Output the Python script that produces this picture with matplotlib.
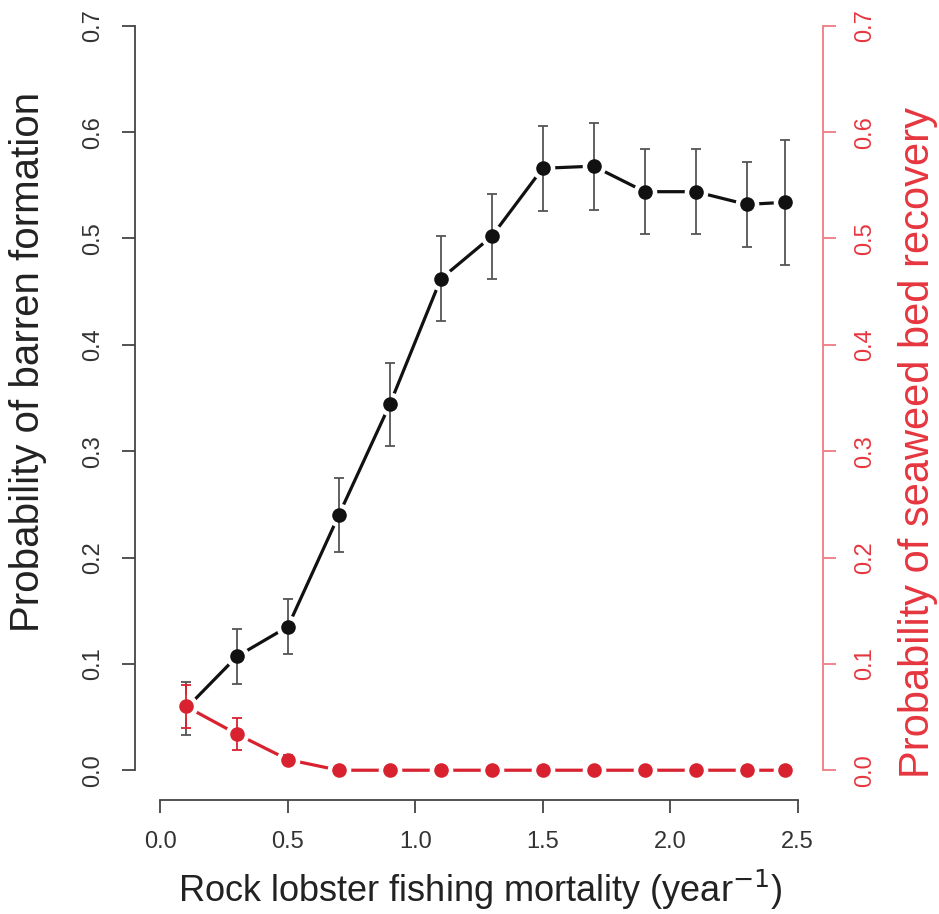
import matplotlib
matplotlib.use("Agg")
import matplotlib.pyplot as plt

plt.rcParams['font.family'] = ['Liberation Sans', 'DejaVu Sans']

# Daten
mortality = [0.1, 0.3, 0.5, 0.7, 0.9, 1.1, 1.3, 1.5, 1.7, 1.9, 2.1, 2.3, 2.45]
barren = [0.058, 0.107, 0.135, 0.240, 0.344, 0.462, 0.502, 0.566, 0.568, 0.544, 0.544, 0.532, 0.534]
barren_err = [0.025, 0.026, 0.026, 0.035, 0.039, 0.040, 0.040, 0.040, 0.041, 0.040, 0.040, 0.040, 0.059]
recovery = [0.060, 0.034, 0.010, 0.0, 0.0, 0.0, 0.0, 0.0, 0.0, 0.0, 0.0, 0.0, 0.0]
recovery_err = [0.020, 0.015, 0.004, 0.0, 0.0, 0.0, 0.0, 0.0, 0.0, 0.0, 0.0, 0.0, 0.0]

x_ticks = [0.0, 0.5, 1.0, 1.5, 2.0, 2.5]
y_ticks = [0.0, 0.1, 0.2, 0.3, 0.4, 0.5, 0.6, 0.7]

BLACK = '#111111'
AXIS_GREY = '#444444'
RED = '#d92230'
RED_TEXT = '#e6363f'
RED_AXIS = '#f07a84'

fig = plt.figure(figsize=(9.39, 9.14), dpi=100)
ax = fig.add_axes([135 / 939, 114 / 914, 688 / 939, 804 / 914])
ax2 = ax.twinx()

# linke Achse: Barren-Bildung (type="b" -> Luecken um die Punkte)
ax.plot(mortality, barren, color=BLACK, lw=2.3, zorder=2)
ax.plot(mortality, barren, 'o', ms=17, color='white', mec='none', zorder=3)
ax.errorbar(mortality, barren, yerr=barren_err, fmt='none', ecolor='#555555',
            elinewidth=1.3, capsize=3.5, capthick=1.3, zorder=4)
ax.plot(mortality, barren, 'o', ms=10.5, color=BLACK, mec='none', zorder=5)

# rechte Achse: Erholung der Seegraswiese
ax2.plot(mortality, recovery, color=RED, lw=2.3, zorder=2)
ax2.plot(mortality, recovery, 'o', ms=17, color='white', mec='none', zorder=3)
ax2.errorbar(mortality, recovery, yerr=recovery_err, fmt='none', ecolor=RED,
             elinewidth=1.3, capsize=3.5, capthick=1.3, zorder=4)
ax2.plot(mortality, recovery, 'o', ms=10.5, color=RED, mec='none', zorder=5)

for a in (ax, ax2):
    a.set_xlim(-0.1, 2.6)
    a.set_ylim(-0.028, 0.728)
    a.set_yticks(y_ticks)
    a.set_yticklabels([f'{v:.1f}' for v in y_ticks])
    a.spines['top'].set_visible(False)

ax.set_xticks(x_ticks)
ax.set_xticklabels([f'{v:.1f}' for v in x_ticks])

# R-artige Achsen
ax.spines['right'].set_visible(False)
ax.spines['left'].set_bounds(0.0, 0.7)
ax.spines['bottom'].set_bounds(0.0, 2.5)
for s in ('left', 'bottom'):
    ax.spines[s].set_color(AXIS_GREY)
    ax.spines[s].set_linewidth(1.3)
ax.tick_params(axis='both', direction='out', length=9.5, width=1.3,
               color=AXIS_GREY, labelsize=17, labelcolor='#333333', pad=13)
ax.tick_params(axis='y', labelrotation=90)
for lab in ax.get_yticklabels():
    lab.set_va('center')

ax2.spines['left'].set_visible(False)
ax2.spines['bottom'].set_visible(False)
ax2.spines['right'].set_bounds(0.0, 0.7)
ax2.spines['right'].set_color(RED_AXIS)
ax2.spines['right'].set_linewidth(1.3)
ax2.tick_params(axis='y', direction='out', length=9.5, width=1.3,
                color=RED_AXIS, labelsize=17, labelcolor=RED_TEXT, pad=13,
                labelrotation=90)
for lab in ax2.get_yticklabels():
    lab.set_va('center')

ax.set_xlabel('Rock lobster fishing mortality (year$^{-1}$)', fontsize=26, color='#222222')
ax.xaxis.set_label_coords(0.5015, -0.112)
ax.xaxis.label.set_va('center')

ax.set_ylabel('Probability of barren formation', fontsize=29, color='#222222')
ax.yaxis.set_label_coords(-0.1555, 0.545)
ax.yaxis.label.set_va('center')

ax2.set_ylabel('Probability of seaweed bed recovery', fontsize=30, color=RED_TEXT,
               rotation=90)
ax2.yaxis.set_label_coords(1.138, 0.445)
ax2.yaxis.label.set_va('center')

fig.savefig('out.png', dpi=100)
plt.close(fig)
